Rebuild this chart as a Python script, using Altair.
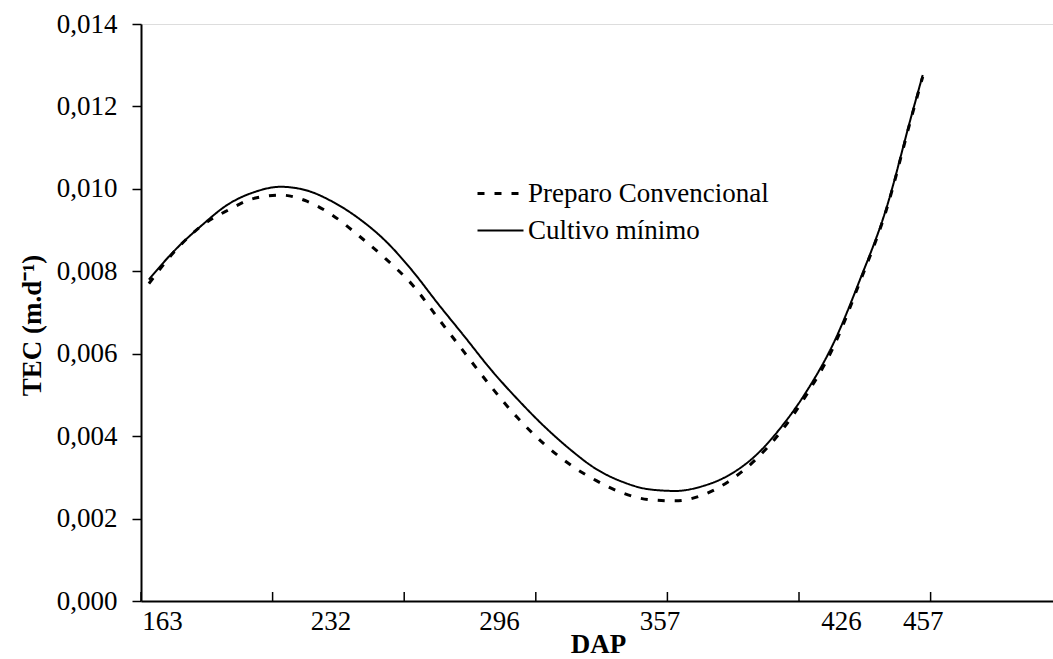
import altair as alt
import pandas as pd

# ---- data ----
dap = [163, 173, 183, 193, 203, 213, 223, 233, 243, 253, 263, 273, 283, 293, 303,
       313, 323, 333, 343, 353, 363, 373, 383, 393, 403, 413, 423, 433, 443, 453, 457]

cultivo_minimo = [0.00780, 0.00852, 0.00911, 0.00962, 0.00992, 0.01005, 0.00996, 0.00968,
                  0.00927, 0.00873, 0.00802, 0.00720, 0.00641, 0.00561, 0.00490, 0.00425,
                  0.00368, 0.00320, 0.00289, 0.00271, 0.00267, 0.00278, 0.00304, 0.00350,
                  0.00420, 0.00510, 0.00624, 0.00777, 0.00949, 0.01184, 0.01276]

preparo_convencional = [0.00770, 0.00850, 0.00910, 0.00948, 0.00977, 0.00985, 0.00970, 0.00935,
                        0.00885, 0.00830, 0.00768, 0.00685, 0.00602, 0.00520, 0.00445, 0.00382,
                        0.00331, 0.00292, 0.00262, 0.00246, 0.00243, 0.00256, 0.00289, 0.00340,
                        0.00410, 0.00502, 0.00615, 0.00772, 0.00945, 0.01180, 0.01272]

series = ["Preparo Convencional", "Cultivo mínimo"]
x_label_values = [163, 232, 296, 357, 426, 457]
x_tick_values = [160, 210, 260, 310, 360, 410, 460]
y_tick_values = [0, 0.002, 0.004, 0.006, 0.008, 0.010, 0.012, 0.014]

rows = []
for d, p, c in zip(dap, preparo_convencional, cultivo_minimo):
    rows.append({"DAP": d, "TEC": p, "Tratamento": series[0]})
    rows.append({"DAP": d, "TEC": c, "Tratamento": series[1]})
df = pd.DataFrame(rows)
ticks_df = pd.DataFrame({"DAP": x_tick_values})

W, H = 912, 577
FONT = "Liberation Serif"
FS = 27

xscale = alt.Scale(domain=[160, 506.5], nice=False, zero=False)
yscale = alt.Scale(domain=[0, 0.014], nice=False, zero=True)

x_axis = alt.Axis(
    values=x_label_values,
    ticks=False,
    grid=False,
    domainColor="black",
    domainWidth=2,
    labelFont=FONT,
    labelFontSize=FS,
    labelColor="black",
    labelPadding=7,
    labelFlush=False,
    labelOverlap=False,
    labelOffset={"condition": {"test": "datum.value == 163", "value": 13}, "value": 0},
    title="DAP",
    titleFont=FONT,
    titleFontSize=FS,
    titleFontWeight="bold",
    titleColor="black",
    titleX=457,
    titleY=51,
    titleAlign="center",
    titleBaseline="alphabetic",
)

lines = alt.Chart(df).mark_line(color="black", interpolate="monotone").encode(
    x=alt.X("DAP:Q", scale=xscale, axis=x_axis, title="DAP"),
    y=alt.Y(
        "TEC:Q",
        scale=yscale,
        axis=alt.Axis(
            values=y_tick_values,
            labelExpr="replace(format(datum.value, '.3f'), '.', ',')",
            grid=False,
            domainColor="black",
            domainWidth=2,
            tickColor="black",
            tickWidth=1.5,
            tickSize=9,
            labelFont=FONT,
            labelFontSize=FS,
            labelColor="black",
            labelPadding=15,
            title="TEC (m.d⁻¹)",
            titleFont=FONT,
            titleFontSize=FS,
            titleFontWeight="bold",
            titleColor="black",
            titleAngle=270,
            titleX=-109,
            titleY=301,
            titleAlign="center",
            titleBaseline="middle",
        ),
    ),
    strokeDash=alt.StrokeDash(
        "Tratamento:N",
        scale=alt.Scale(domain=series, range=[[7, 10], [1, 0]]),
        title=None,
        legend=alt.Legend(
            orient="none",
            legendX=335,
            legendY=151,
            symbolType="stroke",
            symbolSize=2116,
            symbolStrokeColor="black",
            clipHeight=37,
            rowPadding=0,
            padding=0,
            labelFont=FONT,
            labelFontSize=FS,
            labelColor="black",
            labelOffset=3,
            labelLimit=0,
        ),
    ),
    strokeWidth=alt.StrokeWidth(
        "Tratamento:N",
        scale=alt.Scale(domain=series, range=[3, 2]),
        title=None,
    ),
)

ticks = alt.Chart(ticks_df).mark_rule(color="black", strokeWidth=1.5).encode(
    x=alt.X("DAP:Q", scale=xscale, axis=x_axis, title="DAP"),
    y=alt.value(H - 9),
    y2=alt.value(H),
)

chart = alt.layer(lines, ticks).properties(
    width=W,
    height=H,
    autosize=alt.AutoSizeParams(type="none"),
    padding={"left": 141, "top": 24, "right": 0, "bottom": 58},
).configure_view(strokeWidth=0).configure(font=FONT)

chart.save("out.html", embed_options={"renderer": "svg", "actions": False})
